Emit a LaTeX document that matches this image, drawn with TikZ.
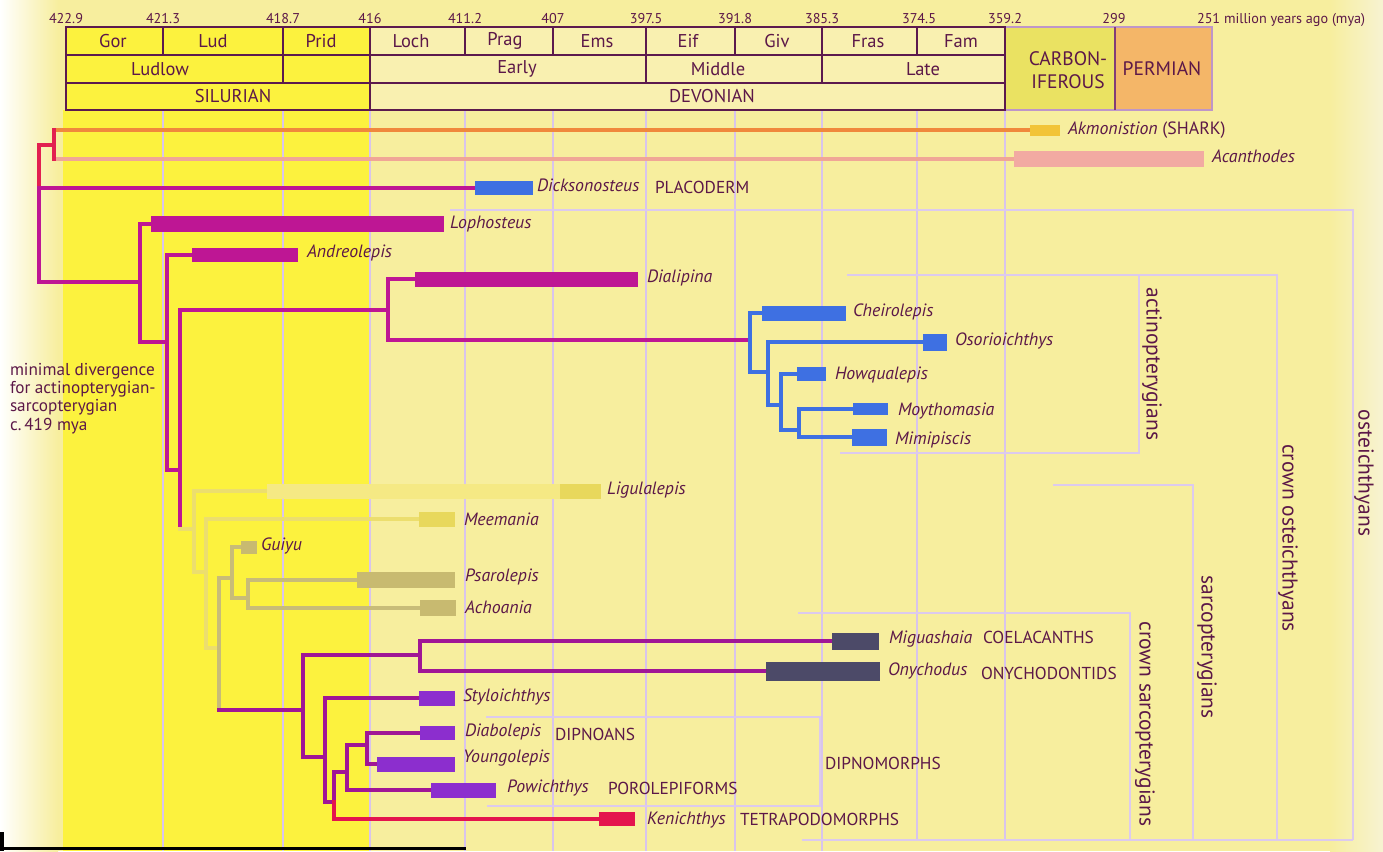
\documentclass[tikz,border=0pt]{standalone}
\usepackage{fontspec}
\setmainfont{PT Sans}
\definecolor{bgc}{RGB}{247,238,158}
\definecolor{bgr}{RGB}{247,243,210}
\definecolor{silc}{RGB}{252,242,62}
\definecolor{devc}{RGB}{249,240,176}
\definecolor{carc}{RGB}{234,226,98}
\definecolor{perc}{RGB}{244,182,104}
\definecolor{txt}{RGB}{92,24,72}
\definecolor{hlc}{RGB}{92,26,78}
\definecolor{cplc}{RGB}{190,150,200}
\definecolor{cpdc}{RGB}{130,60,120}
\definecolor{gridc}{RGB}{216,196,236}
\definecolor{brk}{RGB}{220,202,238}
\definecolor{mag}{RGB}{190,22,148}
\definecolor{blu}{RGB}{62,112,226}
\definecolor{ylw}{RGB}{232,216,92}
\definecolor{ylwl}{RGB}{236,222,110}
\definecolor{ylwpale}{RGB}{245,233,132}
\definecolor{tanb}{RGB}{200,186,112}
\definecolor{tanl}{RGB}{200,188,120}
\definecolor{slate}{RGB}{76,74,104}
\definecolor{vio}{RGB}{140,46,206}
\definecolor{pur}{RGB}{160,22,150}
\definecolor{kred}{RGB}{228,20,78}
\definecolor{org}{RGB}{240,136,60}
\definecolor{akmc}{RGB}{242,196,56}
\definecolor{pnk}{RGB}{240,166,150}
\definecolor{acac}{RGB}{242,170,162}
\definecolor{rd}{RGB}{226,32,80}
\newcommand{\tbar}[5]{\node[draw=none, inner sep=0pt, outer sep=0pt, minimum width={(#3-#2)*1pt}, minimum height={#5*1pt}, anchor=west] (#1) at (#2,#4) {};}
\newcommand{\fbar}[2]{\fill[#2] (#1.south west) rectangle (#1.north east);}
\begin{document}
\begin{tikzpicture}[x=1pt,y=-1pt,
  every node/.style={text=txt, inner sep=0pt, outer sep=0pt},
  lbl/.style={anchor=mid west, font=\fontsize{17.8}{17.8}\selectfont\itshape},
  grp/.style={anchor=mid west, font=\fontsize{17.3}{17.3}\selectfont},
  hdr/.style={font=\fontsize{18.5}{18.5}\selectfont},
  num/.style={anchor=base, font=\fontsize{14.2}{14.2}\selectfont},
  rot/.style={rotate=-90, font=\fontsize{21.5}{21.5}\selectfont},
  br/.style={line width=3.2pt, line cap=rect},
  bk/.style={draw=brk, line width=2.6pt},
  grd/.style={draw=gridc, line width=1.8pt},
  hl/.style={draw=hlc, line width=2.4pt}
]
\useasboundingbox (0,0) rectangle (1383,851);
% background
\fill[bgc] (0,0) rectangle (1383,851);
\shade[left color=white, right color=bgc] (0,0) rectangle (58,851);
\shade[left color=bgc, right color=bgr] (1330,0) rectangle (1383,851);
\fill[silc] (63,110) rectangle (370,851);
% grid lines
\foreach \x in {163,283,370,465,553,646,735,822} \draw[grd] (\x,110) -- (\x,851);
\foreach \x in {917,1005} \draw[grd] (\x,110) -- (\x,840);
% bracket lines
\draw[bk] (450,210) -- (1353,210) -- (1353,840);
\draw[bk] (847,275) -- (1277,275) -- (1277,840);
\draw[bk] (1139,275) -- (1139,453) -- (840,453);
\draw[bk] (1053,485) -- (1193,485) -- (1193,840);
\draw[bk] (798,613) -- (1130,613) -- (1130,840);
\draw[bk] (486,717) -- (820,717) -- (820,806) -- (487,806);
\draw[bk] (802,840) -- (1353,840);
% header
\fill[silc] (66,27) rectangle (370,110);
\fill[devc] (370,27) rectangle (1005,110);
\fill[carc] (1005,27) rectangle (1115,110);
\fill[perc] (1115,27) rectangle (1212,110);
\draw[cplc, line width=1.4pt] (1005,27) rectangle (1212,110);
\draw[cpdc, line width=2pt] (1115,27) -- (1115,110);
\draw[hl] (66,27) rectangle (1005,110);
\draw[hl] (66,55) -- (1005,55) (66,83) -- (1005,83);
\draw[hl] (163,27) -- (163,55) (465,27) -- (465,55) (553,27) -- (553,55) (735,27) -- (735,55) (917,27) -- (917,55);
\draw[hl] (283,27) -- (283,83) (646,27) -- (646,83) (822,27) -- (822,83);
\draw[hl] (370,27) -- (370,110);
\node[hdr] (hGor) at (113,41) {Gor};
\node[hdr] (hLud) at (213,41) {Lud};
\node[hdr] (hPrid) at (321,41) {Prid};
\node[hdr] (hLoch) at (411,41) {Loch};
\node[hdr] (hPrag) at (505,41) {Prag};
\node[hdr] (hEms) at (597,41) {Ems};
\node[hdr] (hEif) at (688,41) {Eif};
\node[hdr] (hGiv) at (777,41) {Giv};
\node[hdr] (hFras) at (868,41) {Fras};
\node[hdr] (hFam) at (961,41) {Fam};
\node[hdr] (hLudlow) at (160,69) {Ludlow};
\node[hdr] (hEarly) at (517,69) {Early};
\node[hdr] (hMiddle) at (718,69) {Middle};
\node[hdr] (hLate) at (923,69) {Late};
\node[hdr] (hSil) at (233,96) {SILURIAN};
\node[hdr] (hDev) at (712,96) {DEVONIAN};
\node[hdr, align=center, font=\fontsize{19.5}{23}\selectfont] (hCarb) at (1068,70) {CARBON-\\IFEROUS};
\node[hdr, font=\fontsize{19.5}{19.5}\selectfont] (hPerm) at (1162,69) {PERMIAN};
\node[num] (n1) at (66,24) {422.9};
\node[num] (n2) at (163,24) {421.3};
\node[num] (n3) at (283,24) {418.7};
\node[num] (n4) at (370,24) {416};
\node[num] (n5) at (465,24) {411.2};
\node[num] (n6) at (553,24) {407};
\node[num] (n7) at (646,24) {397.5};
\node[num] (n8) at (735,24) {391.8};
\node[num] (n9) at (822,24) {385.3};
\node[num] (n10) at (919,24) {374.5};
\node[num] (n11) at (1005,24) {359.2};
\node[num] (n12) at (1114,24) {299};
\node[num, anchor=base west] (n13) at (1197,24) {251 million years ago (mya)};
% bars (geometry)
\tbar{akm}{1030}{1060}{130}{11}
\tbar{aca}{1014}{1204}{159}{16}
\tbar{dick}{475}{533}{188}{14}
\tbar{lopho}{151}{444}{224}{16}
\tbar{andr}{192}{298}{255}{14}
\tbar{dial}{415}{638}{279}{15}
\tbar{cheir}{762}{846}{313}{15}
\tbar{osor}{923}{947}{342}{17}
\tbar{howq}{797}{826}{374}{14}
\tbar{moyt}{853}{888}{409}{12}
\tbar{mimi}{852}{887}{437}{17}
\tbar{liguf}{267}{560}{491}{15}
\tbar{ligu}{560}{601}{491}{15}
\tbar{meem}{419}{455}{519}{15}
\tbar{guiy}{241}{257}{547}{13}
\tbar{psar}{357}{455}{580}{16}
\tbar{acho}{420}{456}{608}{16}
\tbar{migu}{832}{879}{641}{17}
\tbar{onyc}{766}{880}{671}{19}
\tbar{styl}{419}{455}{698}{15}
\tbar{diab}{420}{455}{733}{14}
\tbar{youn}{377}{455}{764}{15}
\tbar{powi}{431}{496}{790}{15}
\tbar{keni}{599}{635}{819}{14}
% tree nodes
\coordinate (r0) at (39,282);
\coordinate (rd1) at (39,188);
\coordinate (ct) at (54,145);
\coordinate (ctA) at (54,130);
\coordinate (ctB) at (54,159);
\coordinate (o1) at (140,282);
\coordinate (o2) at (167,342);
\coordinate (o3) at (180,470);
\coordinate (o3b) at (180,529);
\coordinate (act) at (388,310);
\coordinate (ac2) at (750,340);
\coordinate (ac3) at (768,372);
\coordinate (ac4) at (781,405);
\coordinate (ac5) at (799,430);
\coordinate (s1) at (194,529);
\coordinate (s2) at (206,572);
\coordinate (s3) at (219,648);
\coordinate (s3b) at (219,710);
\coordinate (s4) at (232,578);
\coordinate (s4b) at (248,598);
\coordinate (s5) at (303,710);
\coordinate (coel) at (420,655);
\coordinate (s6) at (325,757);
\coordinate (s7) at (334,802);
\coordinate (s8) at (347,772);
\coordinate (s9) at (367,745);
% tree lines
\draw[br,org] (ctA) -- (akm.west);
\draw[br,pnk] (ctB) -- (aca.west);
\draw[br,rd] (ctA) -- (ctB);
\draw[br,rd] (rd1) |- (ct);
\draw[br,mag] (r0) |- (dick.west);
\draw[br,mag] (r0) -- (o1);
\draw[br,mag] (o1) |- (lopho.west);
\draw[br,mag] (o1) |- (o2);
\draw[br,mag] (o2) |- (andr.west);
\draw[br,mag] (o2) |- (o3);
\draw[br,mag] (o3) |- (act);
\draw[br,mag] (o3) -- (o3b);
\draw[br,mag] (act) |- (dial.west);
\draw[br,mag] (act) |- (ac2);
\draw[br,blu] (ac2) |- (cheir.west);
\draw[br,blu] (ac2) |- (ac3);
\draw[br,blu] (ac3) |- (osor.west);
\draw[br,blu] (ac3) |- (ac4);
\draw[br,blu] (ac4) |- (howq.west);
\draw[br,blu] (ac4) |- (ac5);
\draw[br,blu] (ac5) |- (moyt.west);
\draw[br,blu] (ac5) |- (mimi.west);
\draw[br,ylwl] (o3b) -- (s1);
\draw[br,ylwl] (s1) |- (liguf.west);
\draw[br,ylwl] (s1) |- (s2);
\draw[br,ylwl] (s2) |- (meem.west);
\draw[br,ylwl] (s2) |- (s3);
\draw[br,tanl] (s3) |- (s4);
\draw[br,tanl] (s3) -- (s3b);
\draw[br,pur] (s3b) -- (s5);
\draw[br,tanl] (s4) |- (guiy.west);
\draw[br,tanl] (s4) |- (s4b);
\draw[br,tanl] (s4b) |- (psar.west);
\draw[br,tanl] (s4b) |- (acho.west);
\draw[br,pur] (s5) |- (coel);
\draw[br,pur] (coel) |- (migu.west);
\draw[br,pur] (coel) |- (onyc.west);
\draw[br,pur] (s5) |- (s6);
\draw[br,pur] (s6) |- (styl.west);
\draw[br,pur] (s6) |- (s7);
\draw[br,pur] (s7) |- (s8);
\draw[br,kred] (s7) |- (keni.west);
\draw[br,pur] (s8) |- (s9);
\draw[br,pur] (s8) |- (powi.west);
\draw[br,pur] (s9) |- (diab.west);
\draw[br,pur] (s9) |- (youn.west);
% bar fills
\fbar{akm}{akmc}
\fbar{aca}{acac}
\fbar{dick}{blu}
\fbar{lopho}{mag}
\fbar{andr}{mag}
\fbar{dial}{mag}
\fbar{cheir}{blu}
\fbar{osor}{blu}
\fbar{howq}{blu}
\fbar{moyt}{blu}
\fbar{mimi}{blu}
\fbar{liguf}{ylwpale}
\fbar{ligu}{ylw}
\fbar{meem}{ylw}
\fbar{guiy}{tanb}
\fbar{psar}{tanb}
\fbar{acho}{tanb}
\fbar{migu}{slate}
\fbar{onyc}{slate}
\fbar{styl}{vio}
\fbar{diab}{vio}
\fbar{youn}{vio}
\fbar{powi}{vio}
\fbar{keni}{kred}
% labels
\node[lbl] (lakm) at (1068,132) {Akmonistion {\upshape(SHARK)}};
\node[lbl] (laca) at (1212,160) {Acanthodes};
\node[lbl] (ldick) at (537,189) {Dicksonosteus};
\node[grp] (lplac) at (655,191) {PLACODERM};
\node[lbl] (llopho) at (450,226) {Lophosteus};
\node[lbl] (landr) at (307,255) {Andreolepis};
\node[lbl] (ldial) at (647,280) {Dialipina};
\node[lbl] (lcheir) at (853,314) {Cheirolepis};
\node[lbl] (losor) at (955,343) {Osorioichthys};
\node[lbl] (lhowq) at (835,377) {Howqualepis};
\node[lbl] (lmoyt) at (898,413) {Moythomasia};
\node[lbl] (lmimi) at (895,442) {Mimipiscis};
\node[lbl] (lligu) at (607,492) {Ligulalepis};
\node[lbl] (lmeem) at (464,523) {Meemania};
\node[lbl] (lguiy) at (261,548) {Guiyu};
\node[lbl] (lpsar) at (465,579) {Psarolepis};
\node[lbl] (lacho) at (465,611) {Achoania};
\node[lbl] (lmigu) at (889,641) {Miguashaia};
\node[grp] (lcoel) at (983,641) {COELACANTHS};
\node[lbl] (lonyc) at (888,673) {Onychodus};
\node[grp] (lonyd) at (981,677) {ONYCHODONTIDS};
\node[lbl] (lstyl) at (463,699) {Styloichthys};
\node[lbl] (ldiab) at (465,734) {Diabolepis};
\node[grp] (ldipn) at (555,738) {DIPNOANS};
\node[lbl] (lyoun) at (463,760) {Youngolepis};
\node[lbl] (lpowi) at (507,790) {Powichthys};
\node[grp] (lporo) at (608,792) {POROLEPIFORMS};
\node[lbl] (lkeni) at (647,822) {Kenichthys};
\node[grp] (ltetr) at (740,823) {TETRAPODOMORPHS};
\node[grp] (ldipm) at (825,767) {DIPNOMORPHS};
\node[anchor=north west, align=left, font=\fontsize{17.2}{18.3}\selectfont] (lmin) at (10,363) {minimal divergence\\for actinopterygian-\\sarcopterygian\\c.\,419 mya};
% bracket labels
\node[rot] (tact) at (1152,364) {actinopterygians};
\node[rot] (tost) at (1364,473) {osteichthyans};
\node[rot] (tcost) at (1288,538) {crown osteichthyans};
\node[rot] (tsarc) at (1207,647) {sarcopterygians};
\node[rot] (tcsarc) at (1145,724) {crown sarcopterygians};
% scan artefacts
\fill[black] (0,847) rectangle (466,850);
\fill[black] (0,832) rectangle (4,851);
\end{tikzpicture}
\end{document}
